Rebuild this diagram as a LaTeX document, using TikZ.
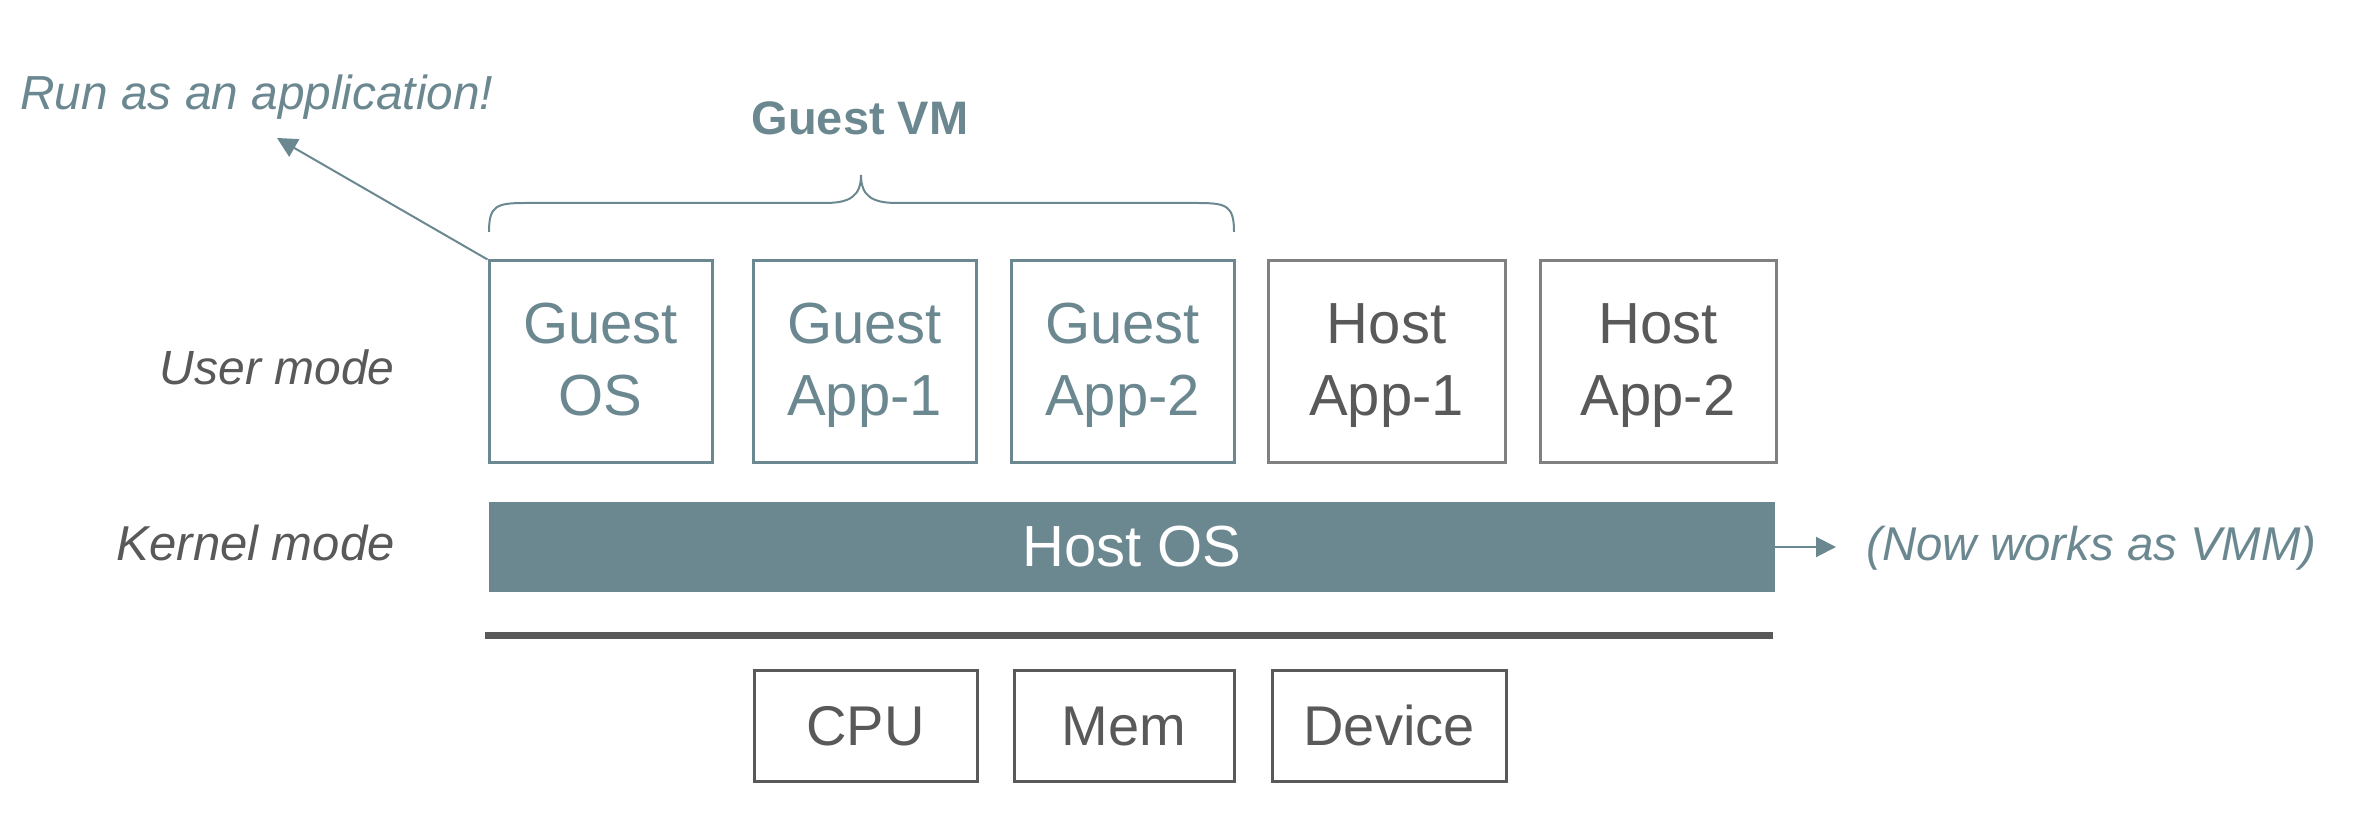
\documentclass[tikz,border=0pt]{standalone}
\usepackage{fontspec}
\setmainfont{Liberation Sans}
\usetikzlibrary{arrows.meta}
\definecolor{teal}{RGB}{107,136,145}
\definecolor{dgray}{RGB}{89,89,89}
\definecolor{mgray}{RGB}{128,128,128}
\newcommand\bxstrut{\rule[-8.5pt]{0pt}{35pt}}
\tikzset{
  px/.style={x=0.5pt,y=-0.5pt},
  guestbox/.style={draw=teal,line width=1.5pt,text=teal,align=center,minimum width=111.5pt,minimum height=101pt,inner sep=0pt,font=\fontsize{29pt}{33.5pt}\selectfont},
  hostbox/.style={draw=mgray,line width=1.5pt,text=dgray,align=center,minimum height=101pt,inner sep=0pt,font=\fontsize{29pt}{33.5pt}\selectfont},
  hwbox/.style={draw=dgray,line width=1.5pt,text=dgray,minimum height=55pt,inner sep=0pt,text height=20pt,text depth=0pt,font=\fontsize{28pt}{33pt}\selectfont},
  modelabel/.style={anchor=base east,inner sep=0pt,text=dgray},
  notelabel/.style={anchor=base west,inner sep=0pt,text=teal},
  arr/.style={teal,line width=1pt,-{Triangle[length=10pt,width=10pt]}},
}
\begin{document}
\begin{tikzpicture}[px]
\useasboundingbox (0,0) rectangle (2366,838);
% user mode boxes
\node[guestbox] (gos) at (600.5,362) {Guest\bxstrut\\OS\bxstrut};
\node[guestbox] (gapp1) at (864.5,362) {Guest\bxstrut\\App-1\bxstrut};
\node[guestbox] (gapp2) at (1122.5,362) {Guest\bxstrut\\App-2\bxstrut};
\node[hostbox,minimum width=118.5pt] (happ1) at (1386.5,362) {Host\bxstrut\\App-1\bxstrut};
\node[hostbox,minimum width=118pt] (happ2) at (1658,362) {Host\bxstrut\\App-2\bxstrut};
% host OS
\node[fill=teal,text=white,minimum width=643pt,minimum height=45pt,inner sep=0pt,font=\fontsize{29pt}{33pt}\selectfont] (hostos) at (1132,547) {Host OS};
% hardware line
\coordinate (hwl) at (485,635.5);
\coordinate (hwr) at (1773,635.5);
\draw[dgray,line width=3.5pt] (hwl) -- (hwr);
% hardware boxes
\node[hwbox,minimum width=111.5pt] (cpu) at (865.5,726) {CPU};
\node[hwbox,minimum width=110pt] (mem) at (1124,726) {Mem};
\node[hwbox,minimum width=117pt] (dev) at (1389,726) {Device};
% labels
\node[modelabel,font=\fontsize{24pt}{28pt}\selectfont\itshape] (user) at (395,385) {User mode};
\node[modelabel,font=\fontsize{24.5pt}{28pt}\selectfont\itshape] (kernel) at (395,561) {Kernel mode};
\node[notelabel,font=\fontsize{23.9pt}{28pt}\selectfont\itshape] (run) at (20,110) {Run as an application!};
\node[notelabel,font=\fontsize{23.7pt}{28pt}\selectfont\itshape] (vmm) at (1866,561) {(Now works as VMM)};
\node[anchor=base,inner sep=0pt,text=teal,font=\fontsize{23.5pt}{27pt}\selectfont\bfseries] (gvm) at (860,135) {Guest VM};
% brace
\draw[teal,line width=1pt] (489,232) .. controls (489,206) and (496,203) .. (525,203) -- (825,203)
  .. controls (850,203) and (861,196) .. (861,175)
  .. controls (861,196) and (872,203) .. (897,203) -- (1198,203)
  .. controls (1227,203) and (1234,206) .. (1234,232);
% arrows
\coordinate (runtip) at (277,138);
\draw[arr] (gos.north west) -- (runtip);
\coordinate (vmmtip) at (1836,547);
\draw[arr] (hostos.east) -- (vmmtip);
\end{tikzpicture}
\end{document}
